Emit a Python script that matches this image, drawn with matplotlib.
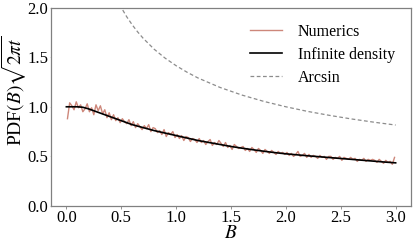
import matplotlib
matplotlib.use("Agg")
import matplotlib.pyplot as plt
import numpy as np

plt.rcParams['font.family'] = ['Liberation Serif', 'DejaVu Serif']
plt.rcParams['mathtext.fontset'] = 'stix'

# Infinite density
inf_B = [0.0, 0.05, 0.1, 0.15, 0.2, 0.25, 0.3, 0.35, 0.4, 0.5, 0.6, 0.7, 0.8, 0.9, 1.0,
         1.1, 1.2, 1.3, 1.4, 1.5, 1.6, 1.7, 1.8, 1.9, 2.0, 2.1, 2.2, 2.3, 2.4, 2.5,
         2.6, 2.7, 2.8, 2.9, 3.0]
inf_val = [1.0, 1.0, 1.0, 0.995, 0.98, 0.96, 0.94, 0.92, 0.90, 0.86, 0.82, 0.79, 0.76, 0.735, 0.71,
           0.685, 0.66, 0.64, 0.62, 0.60, 0.583, 0.567, 0.552, 0.538, 0.526, 0.516, 0.506, 0.497, 0.488, 0.479,
           0.47, 0.461, 0.452, 0.443, 0.435]

# Arcsin
arc_B = [0.45, 0.5, 0.55, 0.6, 0.65, 0.7, 0.8, 0.9, 1.0, 1.1, 1.2, 1.4, 1.6, 1.8, 2.0,
         2.2, 2.4, 2.6, 2.8, 3.0]
arc_val = [2.11, 2.0, 1.907, 1.826, 1.754, 1.69, 1.58, 1.49, 1.414, 1.348, 1.29, 1.195, 1.118, 1.054, 1.0,
           0.953, 0.913, 0.877, 0.845, 0.816]

# Numerics (noisy), B = 0.01 ... 2.99 step 0.02
num_val = [
    0.88, 1.04, 1.01, 0.97, 1.05, 0.99, 1.02, 0.95, 0.98, 1.03,
    0.95, 0.99, 0.92, 1.02, 0.96, 1.01, 0.93, 0.97, 0.89, 0.94,
    0.87, 0.92, 0.86, 0.89, 0.84, 0.88, 0.85, 0.83, 0.87, 0.81,
    0.85, 0.79, 0.83, 0.80, 0.77, 0.81, 0.78, 0.82, 0.75, 0.79,
    0.78, 0.74, 0.76, 0.72, 0.77, 0.70, 0.74, 0.72, 0.75, 0.69,
    0.72, 0.68, 0.71, 0.66, 0.70, 0.69, 0.65, 0.68, 0.67, 0.64,
    0.68, 0.64, 0.66, 0.62, 0.65, 0.67, 0.61, 0.64, 0.62, 0.66,
    0.63, 0.60, 0.64, 0.59, 0.61, 0.57, 0.62, 0.60, 0.58, 0.59,
    0.60, 0.56, 0.58, 0.55, 0.59, 0.57, 0.54, 0.58, 0.56, 0.53,
    0.57, 0.55, 0.53, 0.56, 0.54, 0.52, 0.55, 0.53, 0.54, 0.52,
    0.54, 0.51, 0.53, 0.50, 0.52, 0.55, 0.50, 0.51, 0.53, 0.49,
    0.52, 0.49, 0.51, 0.50, 0.48, 0.51, 0.49, 0.50, 0.47, 0.50,
    0.50, 0.47, 0.49, 0.48, 0.50, 0.46, 0.49, 0.48, 0.47, 0.49,
    0.47, 0.48, 0.45, 0.47, 0.46, 0.48, 0.45, 0.47, 0.46, 0.47,
    0.46, 0.44, 0.47, 0.45, 0.43, 0.46, 0.44, 0.45, 0.42, 0.49,
]
num_B = [round(0.01 + 0.02 * i, 2) for i in range(len(num_val))]

fig = plt.figure(figsize=(4.16, 2.44), dpi=100)
ax = fig.add_axes([0.1226, 0.1557, 0.8654, 0.8133])

ax.plot(num_B, num_val, color='#c87a6c', lw=1.0, alpha=0.9, label='Numerics')
ax.plot(inf_B, inf_val, color='black', lw=1.2, label='Infinite density')
ax.plot(arc_B, arc_val, color='#8c8c8c', lw=0.9, ls=(0, (3, 2)), label='Arcsin')

ax.set_xlim(-0.14, 3.14)
ax.set_ylim(0.0, 2.0)
ax.set_xticks([0.0, 0.5, 1.0, 1.5, 2.0, 2.5, 3.0])
ax.set_yticks([0.0, 0.5, 1.0, 1.5, 2.0])
ax.tick_params(labelsize=12, width=0.6, color='#808080')
ax.tick_params(axis='x', length=2, pad=1)
ax.tick_params(axis='y', length=0.5, pad=1.5)
for s in ax.spines.values():
    s.set_color('#808080')
    s.set_linewidth(0.9)

ax.set_xlabel('$B$', fontsize=14)
ax.xaxis.set_label_coords(0.5, -0.095)
ax.set_ylabel(r'PDF$(B)\sqrt{2\pi t}$', fontsize=14)
ax.yaxis.set_label_coords(-0.062, 0.58)

ax.legend(loc='upper right', frameon=False, fontsize=11.5, handlelength=2.0,
          handletextpad=1.0, borderaxespad=0.6, labelspacing=0.45)

fig.savefig('out.png', dpi=100)
